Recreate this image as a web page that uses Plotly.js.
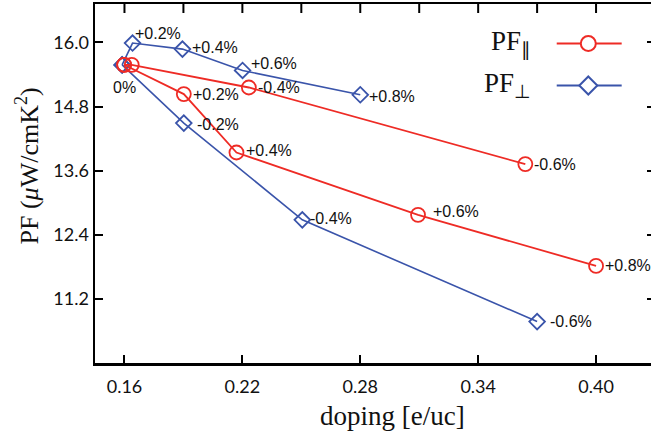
<!DOCTYPE html>
<html>
<head>
<meta charset="utf-8">
<script src="https://cdn.plot.ly/plotly-3.0.1.min.js"></script>
<style>html,body{margin:0;padding:0;overflow:hidden;background:#fff;}#chart{width:660px;height:436px;}</style>
</head>
<body>
<div id="chart"></div>
<script>
// PF parallel (red), positive strain branch
const redPosX = [0.1598, 0.1902, 0.2170, 0.3094, 0.4000];
const redPosY = [15.582, 15.034, 13.940, 12.773, 11.818];
const redPosLabels = ['0%', '+0.2%', '+0.4%', '+0.6%', '+0.8%'];
// PF parallel (red), negative strain branch
const redNegX = [0.1598, 0.1637, 0.2233, 0.3640];
const redNegY = [15.582, 15.580, 15.157, 13.723];
const redNegLabels = ['', '', '-0.4%', '-0.6%'];
// PF perpendicular (blue), positive strain branch
const bluePosX = [0.1588, 0.1641, 0.1895, 0.2201, 0.2800];
const bluePosY = [15.580, 15.989, 15.876, 15.476, 15.021];
const bluePosLabels = ['', '+0.2%', '+0.4%', '+0.6%', '+0.8%'];
// PF perpendicular (blue), negative strain branch
const blueNegX = [0.1588, 0.1902, 0.2505, 0.3700];
const blueNegY = [15.580, 14.491, 12.680, 10.775];
const blueNegLabels = ['', '-0.2%', '-0.4%', '-0.6%'];

const xTickVals = [0.16, 0.22, 0.28, 0.34, 0.40];
const xTickText = ['0.16', '0.22', '0.28', '0.34', '0.40'];
const xTopTickVals = [0.16, 0.19, 0.22, 0.25, 0.28, 0.31, 0.34, 0.37, 0.40];
const yTickVals = [11.2, 12.4, 13.6, 14.8, 16.0];
const yTickText = ['11.2', '12.4', '13.6', '14.8', '16.0'];

// label pixel offsets (style only): [xshift, yshift]
const redPosOff = [[0, -23], [7, 0], [8, 2], [13, 3], [7, 0]];
const redNegOff = [[0, 0], [0, 0], [7, 0], [7, 0]];
const bluePosOff = [[0, 0], [0, 10], [8, 1.5], [6, 6.5], [7, -1.5]];
const blueNegOff = [[0, 0], [11, -1], [6, 1.5], [11, 0]];

const RED = '#ee2b25';
const BLUE = '#3a54aa';
const labelFont = {family: 'Liberation Sans, Arial, sans-serif', size: 16, color: '#111'};

function branch(x, y, color, symbol, size, lw) {
  return {
    x: x, y: y, type: 'scatter', mode: 'lines+markers',
    line: {color: color, width: lw},
    marker: {symbol: symbol, size: size, color: color, line: {color: color, width: 1.8}},
    showlegend: false, hoverinfo: 'skip'
  };
}

const traces = [
  branch(blueNegX, blueNegY, BLUE, 'diamond-open', 12, 1.6),
  branch(bluePosX, bluePosY, BLUE, 'diamond-open', 12, 1.6),
  branch(redNegX, redNegY, RED, 'circle-open', 14, 1.8),
  branch(redPosX, redPosY, RED, 'circle-open', 14, 1.8)
];

function labelAnns(x, y, labels, off) {
  const out = [];
  labels.forEach((t, i) => {
    if (!t) return;
    const centered = t === '0%';
    out.push({
      text: t, x: x[i], y: y[i], xref: 'x', yref: 'y', showarrow: false,
      xanchor: centered ? 'center' : 'left', yanchor: 'middle',
      xshift: off[i][0], yshift: off[i][1], font: labelFont
    });
  });
  return out;
}

const tickFont = {family: 'Lato, sans-serif', size: 18, color: '#111'};
const serif = 'Liberation Serif, Times New Roman, serif';

const annotations = [
  {text: 'doping [e/uc]', xref: 'paper', yref: 'paper', x: 0.532, y: -0.148,
   xanchor: 'center', yanchor: 'middle', showarrow: false,
   font: {family: serif, size: 27, color: '#111'}},
  {text: 'PF (<i>μ</i>W/cmK<sup>2</sup>)', xref: 'paper', yref: 'paper', x: -0.121, y: 0.548,
   xanchor: 'center', yanchor: 'middle', textangle: -90, showarrow: false,
   font: {family: serif, size: 26, color: '#111'}},
  {text: 'PF<sub>∥</sub>', xref: 'paper', yref: 'paper', x: 0.782, y: 0.891,
   xanchor: 'right', yanchor: 'middle', showarrow: false,
   font: {family: serif, size: 27, color: '#111'}},
  {text: 'PF<sub>⊥</sub>', xref: 'paper', yref: 'paper', x: 0.782, y: 0.775,
   xanchor: 'right', yanchor: 'middle', showarrow: false,
   font: {family: serif, size: 27, color: '#111'}}
].concat(
  labelAnns(redPosX, redPosY, redPosLabels, redPosOff),
  labelAnns(redNegX, redNegY, redNegLabels, redNegOff),
  labelAnns(bluePosX, bluePosY, bluePosLabels, bluePosOff),
  labelAnns(blueNegX, blueNegY, blueNegLabels, blueNegOff)
);

// top-frame tick marks (every 0.03), placed through the x scale, 9 px long
const topTicks = xTopTickVals.map(v => ({
  type: 'line', xref: 'x', yref: 'paper',
  x0: v, x1: v, y0: 1, y1: 1 - 9 / 359, line: {color: '#000', width: 2}
}));

const layout = {
  width: 660, height: 436,
  margin: {l: 95, r: 5, t: 4, b: 73},
  paper_bgcolor: '#fff', plot_bgcolor: 'rgba(0,0,0,0)',
  showlegend: false,
  xaxis: {
    range: [0.145, 0.43], tickvals: xTickVals, ticktext: xTickText,
    ticks: 'inside', ticklen: 8, tickwidth: 2, tickcolor: '#000',
    showline: true, linewidth: 2.5, linecolor: '#000', mirror: true,
    showgrid: false, zeroline: false, tickfont: tickFont, ticklabelstandoff: 6
  },
  yaxis: {
    range: [10.0, 16.72], tickvals: yTickVals, ticktext: yTickText,
    ticks: 'inside', ticklen: 8, tickwidth: 2, tickcolor: '#000',
    showline: true, linewidth: 2.5, linecolor: '#000', mirror: 'allticks',
    showgrid: false, zeroline: false, tickfont: tickFont
  },
  annotations: annotations,
  shapes: [
    {type: 'line', xref: 'paper', yref: 'paper', x0: 0.8245, x1: 0.9405, y0: 0.890, y1: 0.890,
     line: {color: RED, width: 2}},
    {type: 'circle', xref: 'paper', yref: 'paper', xsizemode: 'pixel', ysizemode: 'pixel',
     xanchor: 0.8809, yanchor: 0.890, x0: -7.5, x1: 7.5, y0: -7.5, y1: 7.5,
     line: {color: RED, width: 2}, fillcolor: '#fff'},
    {type: 'line', xref: 'paper', yref: 'paper', x0: 0.8245, x1: 0.9405, y0: 0.773, y1: 0.773,
     line: {color: BLUE, width: 2}},
    {type: 'path', xref: 'paper', yref: 'paper', xsizemode: 'pixel', ysizemode: 'pixel',
     xanchor: 0.8809, yanchor: 0.773, path: 'M0,9 L9,0 L0,-9 L-9,0 Z',
     line: {color: BLUE, width: 2}, fillcolor: '#fff'}
  ].concat(topTicks)
};

Plotly.newPlot('chart', traces, layout, {staticPlot: true, displayModeBar: false});
</script>
</body>
</html>
